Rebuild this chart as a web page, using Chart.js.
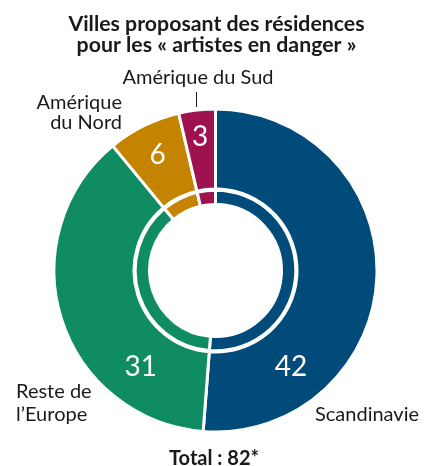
<!DOCTYPE html>
<html><head><meta charset="utf-8">
<script src="https://cdn.jsdelivr.net/npm/chart.js@4.4.1/dist/chart.umd.min.js"></script>
<style>html,body{margin:0;padding:0;background:#fff;}#wrap{width:428px;height:466px;position:relative;}</style>
</head><body>
<div id="wrap"><canvas id="c" width="428" height="466"></canvas></div>
<script>
const categories = ["Scandinavie", "Reste de l’Europe", "Amérique du Nord", "Amérique du Sud"];
const values = [42, 31, 6, 3];
const colors = ["#004B7A", "#0F8C62", "#C48400", "#9E1250"];
const titleLines = ["Villes proposant des résidences", "pour les « artistes en danger »"];
const totalLabel = "Total : 82*";

const ink = "#1a1a1a";
const textPlugin = {
  id: 'texts',
  afterDraw(chart) {
    const ctx = chart.ctx;
    ctx.save();
    ctx.fillStyle = ink;
    ctx.textBaseline = 'alphabetic';
    ctx.font = "bold 21.3px Lato";
    ctx.textAlign = 'center';
    ctx.fillText(titleLines[0], 216.5, 31);
    ctx.fillText(titleLines[1], 216.5, 52);
    ctx.font = "bold 20px Lato";
    ctx.fillText(totalLabel, 214, 465);
    ctx.font = "20px Lato";
    ctx.fillText("Amérique du Sud", 198, 84);
    ctx.textAlign = 'right';
    ctx.fillText("Amérique", 122, 109);
    ctx.fillText("du Nord", 122, 129);
    ctx.textAlign = 'left';
    ctx.fillText("Reste de", 16, 398);
    ctx.fillText("l’Europe", 16, 421);
    ctx.fillText("Scandinavie", 315, 421);
    // leader line
    ctx.strokeStyle = ink;
    ctx.lineWidth = 1;
    ctx.beginPath();
    ctx.moveTo(196.5, 92);
    ctx.lineTo(196.5, 107);
    ctx.stroke();
    // value labels inside outer ring
    const meta = chart.getDatasetMeta(0);
    ctx.fillStyle = "#fff";
    ctx.textAlign = 'center';
    ctx.textBaseline = 'middle';
    ctx.font = "28px Lato";
    const angFrac = [0.768, 0.247, 0.5, 0.5];
    const radFrac = [0.5, 0.5, 0.61, 0.67];
    meta.data.forEach((arc, i) => {
      const p = arc.getProps(['x','y','startAngle','endAngle','innerRadius','outerRadius'], true);
      const a = p.startAngle + (p.endAngle - p.startAngle) * angFrac[i];
      const r = p.innerRadius + (p.outerRadius - p.innerRadius) * radFrac[i];
      ctx.fillText(String(values[i]), p.x + Math.cos(a) * r, p.y + Math.sin(a) * r + 1);
    });
    ctx.restore();
  }
};

new Chart(document.getElementById('c'), {
  type: 'doughnut',
  data: {
    labels: categories,
    datasets: [
      { data: values, backgroundColor: colors, borderColor: '#fff', borderWidth: 3, weight: 80, hoverOffset: 0 },
      { data: [1], backgroundColor: 'rgba(0,0,0,0)', borderWidth: 0, weight: 1.2, hoverOffset: 0 },
      { data: values, backgroundColor: colors, borderColor: '#fff', borderWidth: 3, weight: 14.3, hoverOffset: 0 }
    ]
  },
  options: {
    responsive: false,
    animation: false,
    radius: 161.5,
    cutout: '40.87%',
    layout: { padding: { left: 3, right: 0, top: 75, bottom: 0 } },
    plugins: { legend: { display: false }, tooltip: { enabled: false }, title: { display: false } },
    events: []
  },
  plugins: [textPlugin]
});
</script>
</body></html>
